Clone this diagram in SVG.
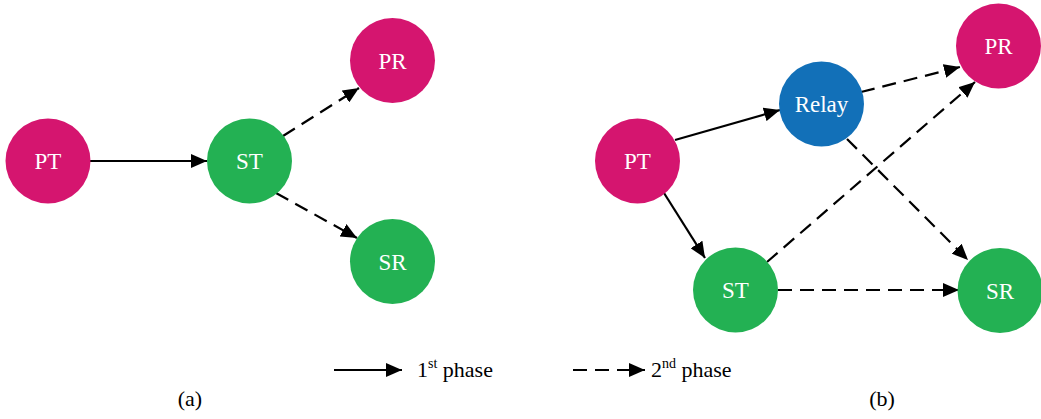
<svg xmlns="http://www.w3.org/2000/svg" width="1041" height="419" viewBox="0 0 1041 419">
<style>
.pk{fill:#D5156F}
.gr{fill:#23B153}
.bl{fill:#1270B8}
.s{stroke:#000;stroke-width:2.2;fill:none}
.d{stroke:#000;stroke-width:2.2;fill:none;stroke-dasharray:14 8}
</style>
<defs>
<marker id="ah" markerUnits="userSpaceOnUse" markerWidth="17" markerHeight="14" refX="16" refY="7" orient="auto">
<path d="M0,0 L16,7 L0,14 z" fill="#000"/>
</marker>
</defs>
<rect width="1041" height="419" fill="#fff"/>
<g id="connectors">
<line class="s" x1="90" y1="161" x2="207" y2="161" marker-end="url(#ah)"/>
<line class="d" x1="283" y1="136" x2="359" y2="88" marker-end="url(#ah)"/>
<line class="d" x1="276" y1="193" x2="357" y2="238" marker-end="url(#ah)"/>
<line class="s" x1="675" y1="140" x2="780" y2="110" marker-end="url(#ah)"/>
<line class="s" x1="664" y1="193" x2="705" y2="258" marker-end="url(#ah)"/>
<line class="d" x1="861" y1="92" x2="960" y2="67" marker-end="url(#ah)"/>
<line class="d" x1="847" y1="139" x2="968" y2="260" marker-end="url(#ah)"/>
<line class="d" x1="767" y1="262" x2="975" y2="82" marker-end="url(#ah)"/>
<line class="d" x1="778" y1="290" x2="959" y2="290" marker-end="url(#ah)"/>
</g>
<g font-family="Liberation Serif" font-size="23" fill="#fff" text-anchor="middle">
<g id="a-PT"><circle class="pk" cx="48" cy="161" r="42.5"/><text x="48" y="169">PT</text></g>
<g id="a-ST"><circle class="gr" cx="249.5" cy="161" r="42.5"/><text x="249.5" y="169">ST</text></g>
<g id="a-PR"><circle class="pk" cx="392.5" cy="60.5" r="42.5"/><text x="392.5" y="68.5">PR</text></g>
<g id="a-SR"><circle class="gr" cx="392.5" cy="261.5" r="42.5"/><text x="392.5" y="269.5">SR</text></g>
<g id="b-PT"><circle class="pk" cx="637.5" cy="161" r="42.5"/><text x="637.5" y="169">PT</text></g>
<g id="b-Relay"><circle class="bl" cx="821.5" cy="104" r="42.5"/><text x="821.5" y="112">Relay</text></g>
<g id="b-ST"><circle class="gr" cx="735.5" cy="290" r="42.5"/><text x="735.5" y="298">ST</text></g>
<g id="b-PR"><circle class="pk" cx="998.5" cy="46" r="42.5"/><text x="998.5" y="54">PR</text></g>
<g id="b-SR"><circle class="gr" cx="1000" cy="290.5" r="42.5"/><text x="1000" y="298.5">SR</text></g>
</g>
<g id="legend">
<line class="s" x1="334" y1="370" x2="402" y2="370" marker-end="url(#ah)"/>
<text x="417" y="377" font-family="Liberation Serif" font-size="22" fill="#000">1<tspan font-size="14" dy="-9">st</tspan><tspan dy="9"> phase</tspan></text>
<line class="d" x1="573" y1="370" x2="645" y2="370" marker-end="url(#ah)"/>
<text x="651" y="377" font-family="Liberation Serif" font-size="22" fill="#000">2<tspan font-size="14" dy="-9">nd</tspan><tspan dy="9"> phase</tspan></text>
</g>
<g id="captions" font-family="Liberation Serif" font-size="22" fill="#000" text-anchor="middle">
<text x="190" y="406">(a)</text>
<text x="882" y="406">(b)</text>
</g>
</svg>
